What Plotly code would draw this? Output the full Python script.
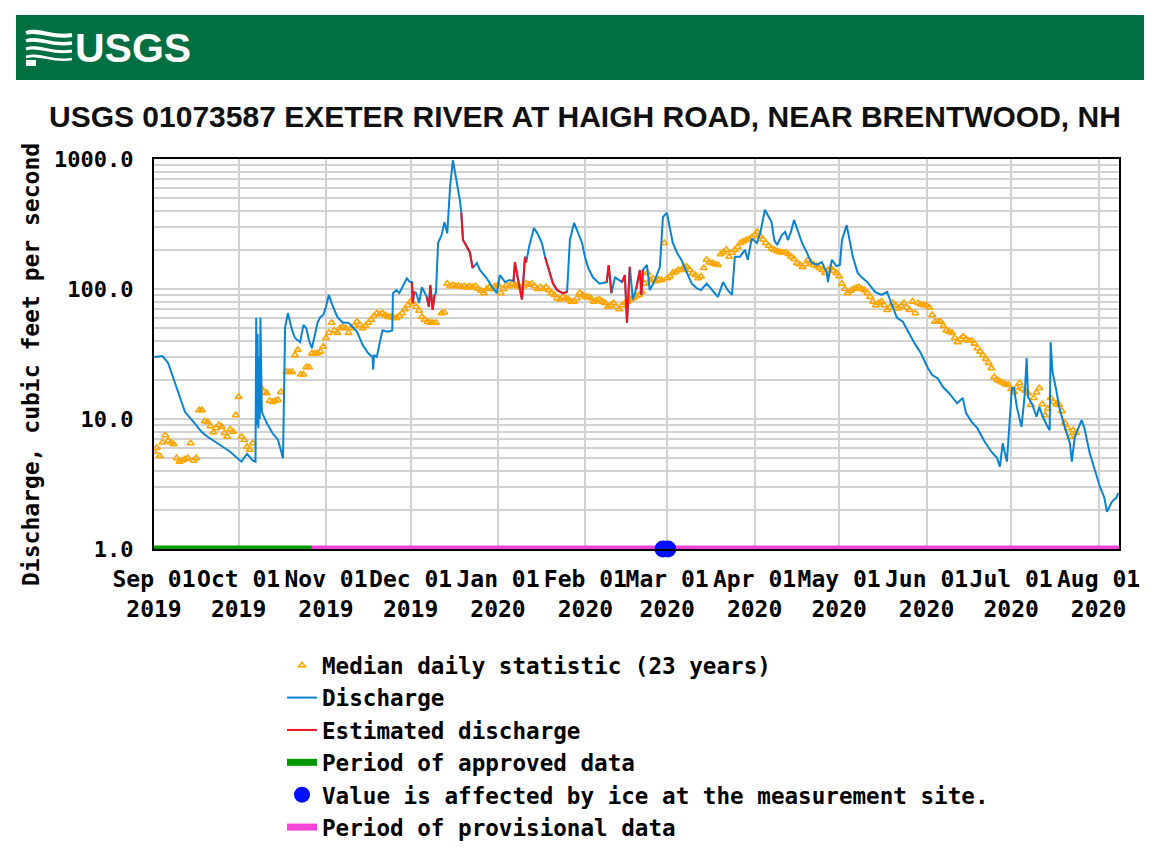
import plotly.graph_objects as go

# ---------------- data ----------------
discharge_time = [
    "2019-09-01", "2019-09-04", "2019-09-06", "2019-09-08", "2019-09-10", "2019-09-12",
    "2019-09-15", "2019-09-18", "2019-09-20", "2019-09-23", "2019-09-25", "2019-09-28",
    "2019-10-02", "2019-10-04", "2019-10-06", "2019-10-07 00:00", "2019-10-07 06:00",
    "2019-10-07 12:00", "2019-10-07 18:00", "2019-10-08 00:00", "2019-10-08 06:00",
    "2019-10-08 12:00", "2019-10-08 18:00", "2019-10-09 06:00", "2019-10-11", "2019-10-13",
    "2019-10-15", "2019-10-16 18:00", "2019-10-17 12:00", "2019-10-18 12:00", "2019-10-20",
    "2019-10-21", "2019-10-22 20:00", "2019-10-24", "2019-10-25", "2019-10-26", "2019-10-27",
    "2019-10-29", "2019-10-30", "2019-10-31", "2019-11-01", "2019-11-02", "2019-11-03",
    "2019-11-05", "2019-11-07", "2019-11-09", "2019-11-12", "2019-11-14", "2019-11-16",
    "2019-11-17 12:00", "2019-11-17 18:00", "2019-11-18", "2019-11-19", "2019-11-20",
    "2019-11-21", "2019-11-23", "2019-11-24 12:00", "2019-11-24 18:00", "2019-11-26",
    "2019-11-27", "2019-11-28", "2019-11-29 16:00", "2019-11-30 18:00", "2019-12-01 12:00",
    "2019-12-01 18:00", "2019-12-02 06:00", "2019-12-03", "2019-12-04", "2019-12-05",
    "2019-12-06 18:00", "2019-12-07 12:00", "2019-12-08 00:00", "2019-12-08 20:00",
    "2019-12-09 12:00", "2019-12-10", "2019-12-10 18:00", "2019-12-12", "2019-12-13",
    "2019-12-14", "2019-12-15", "2019-12-16", "2019-12-17 10:00", "2019-12-18 12:00",
    "2019-12-19", "2019-12-19 14:00", "2019-12-21", "2019-12-22", "2019-12-23",
    "2019-12-24 12:00", "2019-12-25 14:00", "2019-12-28", "2019-12-30", "2019-12-31 14:00",
    "2020-01-01 16:00", "2020-01-03 12:00", "2020-01-05", "2020-01-06 12:00", "2020-01-07",
    "2020-01-08", "2020-01-09 12:00", "2020-01-10 14:00", "2020-01-11", "2020-01-12",
    "2020-01-13 18:00", "2020-01-15", "2020-01-16 14:00", "2020-01-17 16:00",
    "2020-01-19 10:00", "2020-01-20 12:00", "2020-01-22", "2020-01-24", "2020-01-25 12:00",
    "2020-01-26 12:00", "2020-01-28", "2020-01-29 10:00", "2020-01-30 20:00",
    "2020-01-31 20:00", "2020-02-02", "2020-02-03 16:00", "2020-02-06", "2020-02-08 14:00",
    "2020-02-09 06:00", "2020-02-10 06:00", "2020-02-11 12:00", "2020-02-14", "2020-02-15",
    "2020-02-15 18:00", "2020-02-16 18:00", "2020-02-17 20:00", "2020-02-19",
    "2020-02-20 08:00", "2020-02-20 20:00", "2020-02-21 10:00", "2020-02-22 20:00",
    "2020-02-23 20:00", "2020-02-25 16:00", "2020-02-27 10:00", "2020-02-28 12:00",
    "2020-02-29 22:00", "2020-03-02", "2020-03-03", "2020-03-04 12:00", "2020-03-06",
    "2020-03-08", "2020-03-09 18:00", "2020-03-11 14:00", "2020-03-13", "2020-03-15",
    "2020-03-17", "2020-03-19", "2020-03-20 20:00", "2020-03-22 12:00", "2020-03-24",
    "2020-03-25", "2020-03-26 20:00", "2020-03-28 14:00", "2020-03-29 14:00", "2020-03-31",
    "2020-04-01 20:00", "2020-04-03", "2020-04-04 16:00", "2020-04-05 16:00", "2020-04-07",
    "2020-04-08", "2020-04-09", "2020-04-10 16:00", "2020-04-11 20:00", "2020-04-12 20:00",
    "2020-04-14", "2020-04-15", "2020-04-16 10:00", "2020-04-17 20:00", "2020-04-19 14:00",
    "2020-04-21", "2020-04-23", "2020-04-24 20:00", "2020-04-26 16:00", "2020-04-27",
    "2020-04-28 10:00", "2020-04-30", "2020-05-01 06:00", "2020-05-02", "2020-05-03 16:00",
    "2020-05-04 18:00", "2020-05-05 20:00", "2020-05-07 14:00", "2020-05-09", "2020-05-11",
    "2020-05-13", "2020-05-13 18:00", "2020-05-16", "2020-05-18", "2020-05-19",
    "2020-05-21 12:00", "2020-05-23 14:00", "2020-05-25 10:00", "2020-05-27 20:00",
    "2020-05-30", "2020-06-01 12:00", "2020-06-03", "2020-06-05", "2020-06-06 20:00",
    "2020-06-09", "2020-06-11 20:00", "2020-06-13 20:00", "2020-06-15", "2020-06-17",
    "2020-06-19", "2020-06-21 16:00", "2020-06-24", "2020-06-26", "2020-06-27",
    "2020-06-28", "2020-06-29 12:00", "2020-06-30 12:00", "2020-07-01 06:00", "2020-07-02",
    "2020-07-03", "2020-07-04 16:00", "2020-07-05 18:00", "2020-07-06 12:00", "2020-07-07",
    "2020-07-08 14:00", "2020-07-10", "2020-07-11", "2020-07-12", "2020-07-13 14:00",
    "2020-07-14 16:00", "2020-07-15", "2020-07-15 16:00", "2020-07-17", "2020-07-18",
    "2020-07-20", "2020-07-21 20:00", "2020-07-22 12:00", "2020-07-23 14:00", "2020-07-26",
    "2020-07-27", "2020-07-28 20:00", "2020-07-30 16:00", "2020-08-01 12:00", "2020-08-03",
    "2020-08-04", "2020-08-05 16:00", "2020-08-07 10:00", "2020-08-08",
]
discharge_cfs = [
    30, 30.5, 27, 20, 15.3, 11.3,
    9.5, 7.9, 7.3, 6.6, 6.2, 5.6,
    4.7, 5.4, 4.8, 4.7, 60,
    9, 45, 8.5, 30,
    10, 60, 11.3, 9.3, 7.8,
    6.9, 5.0, 51, 65, 48,
    42, 39, 53, 50, 40, 35,
    55, 61, 63, 73, 90, 78,
    61, 55, 55, 47, 37, 32,
    30, 24, 31, 30, 38,
    48, 47, 48, 93, 98,
    93, 103, 121, 113, 113,
    78, 95, 93, 78, 103,
    87, 73, 107, 69,
    90, 93, 226, 260, 327,
    268, 609, 980, 665, 480,
    385, 238, 210, 192, 145,
    158, 140, 121, 103, 93,
    128, 113, 117, 115, 161,
    121, 83, 177, 160, 210,
    294, 268, 226, 177,
    135, 110, 98, 93, 95,
    238, 323, 268, 226,
    177, 145, 123, 110, 113,
    153, 93, 123, 113, 128,
    55, 148, 83, 100,
    140, 90, 140, 153,
    98, 117, 148, 358,
    385, 282, 226, 190, 168,
    133, 110, 101, 98, 110,
    98, 87, 113, 98, 90,
    177, 177, 200, 168, 245,
    226, 268, 407, 370, 327,
    238, 218, 260, 275, 238,
    280, 340, 282, 226, 190,
    161, 153, 161, 133, 113,
    168, 150, 153, 238, 310,
    226, 177, 133, 123, 113,
    101, 95, 90, 95, 83,
    60, 56, 47, 38,
    32, 24.6, 21.8, 20.5, 17.6,
    15.8, 13.2, 14.5, 11.1, 9.5,
    8.5, 6.65, 5.6, 5.0, 4.3,
    6.5, 4.7, 10.4, 17.3, 17.3,
    12.4, 8.7, 14.8, 29.4, 14.8,
    12.8, 10.4, 12.4, 10.7, 9.0,
    8.2, 39, 23, 16.7, 12.4,
    8.7, 6.5, 4.7, 7.3, 9.8,
    8.5, 5.5, 4.05, 3.0, 2.5,
    1.93, 2.3, 2.5, 2.7,
]
# timestamps whose values are estimated (drawn red)
estimated_times = [
    "2019-12-01 18:00", "2019-12-02 06:00",
    "2019-12-07 12:00", "2019-12-08 00:00", "2019-12-08 20:00", "2019-12-09 12:00",
    "2019-12-19 14:00", "2019-12-21", "2019-12-22", "2019-12-23",
    "2020-01-07", "2020-01-08", "2020-01-09 12:00", "2020-01-10 14:00", "2020-01-11",
    "2020-01-19 10:00", "2020-01-20 12:00", "2020-01-22", "2020-01-24", "2020-01-25 12:00",
    "2020-02-09 06:00", "2020-02-10 06:00",
    "2020-02-15", "2020-02-15 18:00", "2020-02-16 18:00",
    "2020-02-20 08:00", "2020-02-20 20:00", "2020-02-21 10:00",
]

median_time = [
    "2019-09-01", "2019-09-02", "2019-09-03", "2019-09-04", "2019-09-05", "2019-09-06",
    "2019-09-07", "2019-09-08", "2019-09-09", "2019-09-10", "2019-09-11", "2019-09-12",
    "2019-09-13", "2019-09-14", "2019-09-15", "2019-09-16", "2019-09-17", "2019-09-18",
    "2019-09-19", "2019-09-20", "2019-09-21", "2019-09-22", "2019-09-23", "2019-09-24",
    "2019-09-25", "2019-09-26", "2019-09-27", "2019-09-28", "2019-09-29", "2019-09-30",
    "2019-10-01", "2019-10-02", "2019-10-03", "2019-10-04", "2019-10-05", "2019-10-06",
    "2019-10-09", "2019-10-10", "2019-10-11", "2019-10-12", "2019-10-13", "2019-10-14",
    "2019-10-15", "2019-10-16", "2019-10-18", "2019-10-19", "2019-10-20", "2019-10-21",
    "2019-10-22", "2019-10-23", "2019-10-24", "2019-10-25", "2019-10-26", "2019-10-27",
    "2019-10-28", "2019-10-29", "2019-10-30", "2019-10-31", "2019-11-01", "2019-11-02",
    "2019-11-03", "2019-11-04", "2019-11-05", "2019-11-06", "2019-11-07", "2019-11-08",
    "2019-11-09", "2019-11-10", "2019-11-11", "2019-11-12", "2019-11-13", "2019-11-14",
    "2019-11-15", "2019-11-16", "2019-11-17", "2019-11-18", "2019-11-19", "2019-11-20",
    "2019-11-21", "2019-11-22", "2019-11-23", "2019-11-24", "2019-11-25", "2019-11-26",
    "2019-11-27", "2019-11-28", "2019-11-29", "2019-11-30", "2019-12-01", "2019-12-02",
    "2019-12-03", "2019-12-04", "2019-12-05", "2019-12-06", "2019-12-07", "2019-12-08",
    "2019-12-09", "2019-12-10", "2019-12-12", "2019-12-13",
    "2019-12-14", "2019-12-15", "2019-12-16", "2019-12-17", "2019-12-18", "2019-12-19",
    "2019-12-20", "2019-12-21", "2019-12-22", "2019-12-23", "2019-12-24", "2019-12-25",
    "2019-12-26", "2019-12-27", "2019-12-28", "2019-12-29", "2019-12-30", "2019-12-31",
    "2020-01-01", "2020-01-02", "2020-01-03", "2020-01-04", "2020-01-05", "2020-01-06",
    "2020-01-07", "2020-01-08", "2020-01-09", "2020-01-10", "2020-01-11", "2020-01-12",
    "2020-01-13", "2020-01-14", "2020-01-15", "2020-01-16", "2020-01-17", "2020-01-18",
    "2020-01-19", "2020-01-20", "2020-01-21", "2020-01-22", "2020-01-23", "2020-01-24",
    "2020-01-25", "2020-01-26", "2020-01-27", "2020-01-28", "2020-01-29", "2020-01-30",
    "2020-01-31", "2020-02-01", "2020-02-02", "2020-02-03", "2020-02-04", "2020-02-05",
    "2020-02-06", "2020-02-07", "2020-02-08", "2020-02-09", "2020-02-10", "2020-02-11",
    "2020-02-12", "2020-02-13", "2020-02-14", "2020-02-15", "2020-02-16", "2020-02-17",
    "2020-02-18", "2020-02-19", "2020-02-20", "2020-02-21", "2020-02-22", "2020-02-23",
    "2020-02-24", "2020-02-25", "2020-02-26", "2020-02-27", "2020-02-28", "2020-02-29",
    "2020-03-01", "2020-03-02", "2020-03-03", "2020-03-04", "2020-03-05", "2020-03-06",
    "2020-03-07", "2020-03-08", "2020-03-09", "2020-03-10", "2020-03-11", "2020-03-12",
    "2020-03-13", "2020-03-14", "2020-03-15", "2020-03-16", "2020-03-17", "2020-03-18",
    "2020-03-19", "2020-03-20", "2020-03-21", "2020-03-22", "2020-03-23", "2020-03-24",
    "2020-03-25", "2020-03-26", "2020-03-27", "2020-03-28", "2020-03-29", "2020-03-30",
    "2020-03-31", "2020-04-01", "2020-04-02", "2020-04-03", "2020-04-04", "2020-04-05",
    "2020-04-06", "2020-04-07", "2020-04-08", "2020-04-09", "2020-04-10", "2020-04-11",
    "2020-04-12", "2020-04-13", "2020-04-14", "2020-04-15", "2020-04-16", "2020-04-17",
    "2020-04-18", "2020-04-19", "2020-04-20", "2020-04-21", "2020-04-22", "2020-04-23",
    "2020-04-24", "2020-04-25", "2020-04-26", "2020-04-27", "2020-04-28", "2020-04-29",
    "2020-04-30", "2020-05-01", "2020-05-02", "2020-05-03", "2020-05-04", "2020-05-05",
    "2020-05-06", "2020-05-07", "2020-05-08", "2020-05-09", "2020-05-10", "2020-05-11",
    "2020-05-12", "2020-05-13", "2020-05-14", "2020-05-15", "2020-05-16", "2020-05-17",
    "2020-05-18", "2020-05-19", "2020-05-20", "2020-05-21", "2020-05-22", "2020-05-23",
    "2020-05-24", "2020-05-25", "2020-05-26", "2020-05-27", "2020-05-28", "2020-05-29",
    "2020-05-30", "2020-05-31", "2020-06-01", "2020-06-02", "2020-06-03", "2020-06-04",
    "2020-06-05", "2020-06-06", "2020-06-07", "2020-06-08", "2020-06-09", "2020-06-10",
    "2020-06-11", "2020-06-12", "2020-06-13", "2020-06-14", "2020-06-15", "2020-06-16",
    "2020-06-17", "2020-06-18", "2020-06-19", "2020-06-20", "2020-06-21", "2020-06-22",
    "2020-06-23", "2020-06-24", "2020-06-25", "2020-06-26", "2020-06-27", "2020-06-28",
    "2020-06-29", "2020-06-30", "2020-07-01", "2020-07-02", "2020-07-03", "2020-07-04",
    "2020-07-05", "2020-07-06", "2020-07-07", "2020-07-08", "2020-07-09", "2020-07-10",
    "2020-07-11", "2020-07-12", "2020-07-13", "2020-07-14", "2020-07-15", "2020-07-16",
    "2020-07-17", "2020-07-18", "2020-07-19", "2020-07-20", "2020-07-21", "2020-07-22",
    "2020-07-23", "2020-07-24", "2020-07-25", "2020-07-26", "2020-07-27", "2020-07-28",
    "2020-07-29", "2020-07-30", "2020-07-31", "2020-08-01", "2020-08-02", "2020-08-03",
    "2020-08-04", "2020-08-05", "2020-08-06", "2020-08-07",
]
median_cfs = [
    5.6, 6.0, 5.2, 6.6, 7.5, 6.8,
    6.6, 6.4, 5.0, 4.7, 4.8, 4.9,
    5.0, 6.5, 4.8, 5.0, 11.7, 11.7,
    9.6, 9.5, 8.8, 7.9, 8.5, 9.0,
    8.7, 7.8, 7.3, 8.3, 8.0, 10.7,
    14.8, 7.3, 6.9, 6.1, 5.8, 6.5,
    17.3, 16.1, 15.8, 13.8, 13.5, 13.8,
    14.0, 16.1, 23, 23, 23, 31,
    34, 22, 22, 25, 25, 32,
    32, 32, 33, 36, 42, 46,
    55, 48, 46, 50, 51, 50,
    46, 50, 52, 56, 53, 50,
    52, 55, 58, 62, 65, 64,
    65, 63, 61, 61, 60, 60,
    62, 65, 70, 75, 80, 77,
    73, 68, 61, 58, 56, 55,
    55, 55, 65, 66,
    110, 105, 107, 105, 106, 104,
    105, 103, 105, 103, 105, 100,
    97, 93, 100, 103, 100, 105,
    107, 93, 100, 107, 105, 110,
    108, 105, 103, 105, 110, 108,
    110, 105, 100, 103, 100, 103,
    98, 93, 90, 85, 83, 87,
    85, 83, 80, 80, 85, 93,
    90, 87, 87, 85, 80, 82,
    83, 80, 78, 73, 75, 78,
    73, 70, 75, 78, 80, 83,
    85, 88, 90, 95, 110, 133,
    117, 120, 115, 118, 117, 226,
    121, 125, 133, 135, 140, 140,
    148, 148, 140, 132, 128, 121,
    125, 145, 168, 160, 158, 155,
    153, 185, 192, 200, 177, 190,
    200, 210, 226, 232, 238, 240,
    250, 260, 275, 255, 240, 226,
    215, 205, 200, 195, 192, 190,
    190, 185, 177, 170, 158, 155,
    148, 155, 168, 160, 153, 150,
    145, 140, 133, 140, 145, 138,
    133, 125, 110, 100, 93, 97,
    100, 102, 103, 100, 98, 93,
    87, 80, 75, 78, 80, 75,
    69, 72, 78, 75, 71, 74,
    78, 72, 69, 80, 65, 78,
    76, 75, 75, 72, 63, 56,
    56, 56, 52, 48, 47, 46,
    42, 39, 41, 43, 41, 40,
    40, 38, 35, 33, 31, 29,
    27, 24.6, 21, 20, 19.5, 19,
    18.5, 18.3, 17, 16.1, 17.5, 18.9,
    17, 16.5, 15.8, 12.8, 14.5, 16,
    17.3, 13, 10.7, 12, 14.5, 13.5,
    13, 12.8, 11.5, 9.3, 8.5, 7.3,
    8.2, 7.8,
]

approved_period = ["2019-08-31 12:00", "2019-10-27"]
provisional_period = ["2019-10-27", "2020-08-08 12:00"]
ice_dates = ["2020-02-28 12:00", "2020-03-01 06:00"]

tick_dates = ["2019-09-01", "2019-10-01", "2019-11-01", "2019-12-01", "2020-01-01",
              "2020-02-01", "2020-03-01", "2020-04-01", "2020-05-01", "2020-06-01",
              "2020-07-01", "2020-08-01"]
tick_text = ["Sep 01<br>2019", "Oct 01<br>2019", "Nov 01<br>2019", "Dec 01<br>2019",
             "Jan 01<br>2020", "Feb 01<br>2020", "Mar 01<br>2020", "Apr 01<br>2020",
             "May 01<br>2020", "Jun 01<br>2020", "Jul 01<br>2020", "Aug 01<br>2020"]
y_tick_vals = [1, 10, 100, 1000]
y_tick_text = ["1.0", "10.0", "100.0", "1000.0"]

TITLE = "USGS 01073587 EXETER RIVER AT HAIGH ROAD, NEAR BRENTWOOD, NH"

# ---------------- styling ----------------
MONO = "DejaVu Sans Mono, monospace"
SANS = "Liberation Sans, Arial, sans-serif"
BLUE = "#0a84d0"
RED = "#f01420"
ORANGE = "#ffa500"
GREEN = "#009a00"
MAGENTA = "#f545d8"
GRID = "#d2d2d2"

OFF = 8                      # body margin of the html page
FIG_W, FIG_H = 1136, 845
L, R, T, B = 154, 1119, 159, 549   # plot-area edges in page pixels


def px(x):
    return (x - L) / (R - L)


def py(y):
    return (B - y) / (B - T)


# red overlay built from the estimated timestamps
est_set = set(estimated_times)
est_y = []
for i, t in enumerate(discharge_time):
    nxt = discharge_time[i + 1] if i + 1 < len(discharge_time) else None
    if t in est_set or (nxt in est_set):
        est_y.append(discharge_cfs[i])
    else:
        est_y.append(None)

fig = go.Figure()

fig.add_trace(go.Scatter(
    x=approved_period, y=[1, 1], mode="lines", name="Period of approved data",
    line=dict(color=GREEN, width=7), cliponaxis=False, legendrank=4))
fig.add_trace(go.Scatter(
    x=provisional_period, y=[1, 1], mode="lines", name="Period of provisional data",
    line=dict(color=MAGENTA, width=7), cliponaxis=False, legendrank=6))
fig.add_trace(go.Scatter(
    x=median_time, y=median_cfs, mode="markers", name="Median daily statistic (23 years)",
    marker=dict(symbol="triangle-up-open", size=6, color=ORANGE, line=dict(width=1.6, color=ORANGE)),
    legendrank=1))
fig.add_trace(go.Scatter(
    x=discharge_time, y=discharge_cfs, mode="lines", name="Discharge",
    line=dict(color=BLUE, width=2), legendrank=2))
fig.add_trace(go.Scatter(
    x=discharge_time, y=est_y, mode="lines", name="Estimated discharge",
    line=dict(color=RED, width=2), connectgaps=False, legendrank=3))
fig.add_trace(go.Scatter(
    x=ice_dates, y=[1, 1], mode="markers", name="Value is affected by ice at the measurement site.",
    marker=dict(symbol="circle", size=17, color="#0010ff"), cliponaxis=False, legendrank=5))

shapes = [
    # outer frame (left/top)
    dict(type="line", xref="paper", yref="paper", x0=px(5), x1=px(5), y0=py(6), y1=py(900),
         line=dict(color="#333333", width=1.5)),
    dict(type="line", xref="paper", yref="paper", x0=px(5), x1=px(1200), y0=py(6), y1=py(6),
         line=dict(color="#333333", width=1.5)),
    # green banner
    dict(type="rect", xref="paper", yref="paper", x0=px(16), x1=px(1200), y0=py(80), y1=py(15),
         fillcolor="#006f41", line=dict(width=0), layer="below"),
]
# wave icon of the logo
for k, yy in enumerate([33, 41, 49, 57]):
    path = (f"M {px(26)},{py(yy)} C {px(38)},{py(yy - 5)} {px(52)},{py(yy + 6)} {px(72)},{py(yy + 2)}")
    shapes.append(dict(type="path", xref="paper", yref="paper", path=path,
                       line=dict(color="white", width=4 - 0.5 * k)))
shapes.append(dict(type="rect", xref="paper", yref="paper", x0=px(26), x1=px(36), y0=py(66),
                   y1=py(60), fillcolor="white", line=dict(width=0)))

annotations = [
    dict(text="USGS", xref="paper", yref="paper", x=px(73), y=py(48), xanchor="left",
         yanchor="middle", showarrow=False,
         font=dict(family=SANS, size=41, color="white", weight="bold")),
    dict(text=TITLE, xref="paper", yref="paper", x=px(585), y=py(117), xanchor="center",
         yanchor="middle", showarrow=False,
         font=dict(family=SANS, size=30, color="#111111", weight="bold")),
    dict(text="Discharge, cubic feet per second", xref="paper", yref="paper", x=px(31),
         y=py(365), xanchor="center", yanchor="middle", textangle=-90, showarrow=False,
         font=dict(family=MONO, size=23, color="black", weight="bold")),
]

minor_vals = [m * 10 ** e for e in range(0, 3) for m in range(2, 10)]

fig.update_layout(
    width=FIG_W, height=FIG_H,
    margin=dict(l=L - OFF, r=FIG_W - (R - OFF), t=T - OFF, b=FIG_H - (B - OFF), pad=0,
                autoexpand=False),
    paper_bgcolor="white", plot_bgcolor="white",
    shapes=shapes, annotations=annotations,
    showlegend=True,
    legend=dict(x=px(282), y=py(644), xanchor="left", yanchor="top",
                font=dict(family=MONO, size=22.6, color="black", weight="bold"),
                bgcolor="rgba(0,0,0,0)", itemwidth=30, tracegroupgap=0),
    xaxis=dict(
        type="date", range=["2019-09-01", "2020-08-08 06:00"],
        tickvals=tick_dates, ticktext=tick_text, ticks="", tickangle=0,
        tickfont=dict(family=MONO, size=23, color="black", weight="bold"),
        showgrid=True, gridcolor=GRID, gridwidth=2,
        showline=True, linecolor="black", linewidth=2, mirror=True,
        zeroline=False, layer="above traces", ticklabelstandoff=8, automargin=False,
    ),
    yaxis=dict(
        type="log", range=[0, 3],
        tickvals=y_tick_vals, ticktext=y_tick_text, ticks="",
        tickfont=dict(family=MONO, size=22, color="black", weight="bold"),
        showgrid=True, gridcolor=GRID, gridwidth=2,
        minor=dict(tickvals=minor_vals, showgrid=True, gridcolor=GRID, gridwidth=2, ticks=""),
        showline=True, linecolor="black", linewidth=2, mirror=True,
        zeroline=False, layer="above traces", ticklabelstandoff=14, automargin=False,
    ),
)

fig.write_html("out.html")
